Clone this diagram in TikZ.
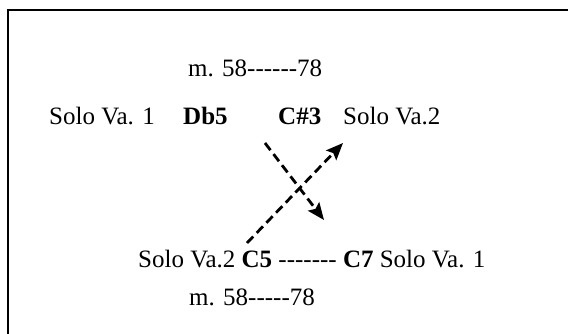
\documentclass[tikz,border=0pt]{standalone}
\usepackage{fontspec}
\setmainfont{Liberation Serif}[Ligatures=TeXOff]
\usetikzlibrary{arrows.meta}
\begin{document}
\begin{tikzpicture}[x=1pt,y=1pt,
  lbl/.style={inner sep=0pt,anchor=base west,font=\fontsize{25}{30}\selectfont},
  darrow/.style={line width=2.8pt,dash pattern=on 9pt off 5pt,-{Stealth[length=17pt,width=14pt,inset=3pt]}}]
\useasboundingbox (0,0) rectangle (568,334);
\begin{scope}
\clip (0,0) rectangle (568,334);
\draw[line width=2pt] (8,324) rectangle (620,-20);
\end{scope}
\node[lbl] (mtop) at (188,257) {m. 58------78};
\node[lbl] (va1) at (49,209) {Solo Va. 1};
\node[lbl] (db5) at (183,209) {\textbf{Db5}};
\node[lbl] (cs3) at (278,209) {\textbf{C\#3}};
\node[lbl] (va2) at (343,209) {Solo Va.2};
\node[lbl] (bot) at (138,66) {Solo Va.2 \textbf{C5} ------- \textbf{C7} Solo Va. 1};
\node[lbl] (mbot) at (189,28) {m. 58-----78};
\coordinate (a1s) at (265,191);
\coordinate (a1e) at (324,114);
\coordinate (a2s) at (247,91);
\coordinate (a2e) at (343,191);
\draw[darrow] (a1s) -- (a1e);
\draw[darrow] (a2s) -- (a2e);
\end{tikzpicture}
\end{document}
